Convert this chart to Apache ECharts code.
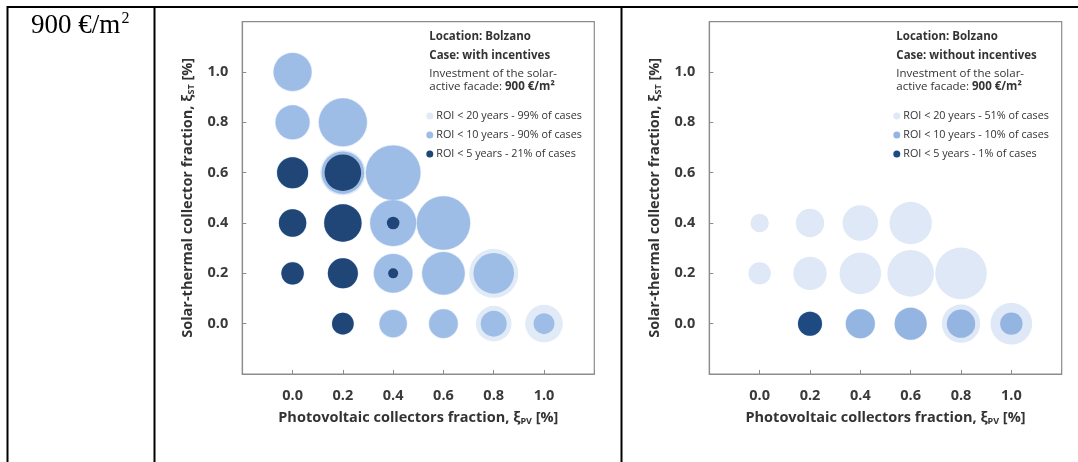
<!DOCTYPE html>
<html>
<head>
<meta charset="utf-8">
<title>ROI of solar-active facade – Bolzano, 900 €/m²</title>
<script src="https://cdn.jsdelivr.net/npm/echarts@6/dist/echarts.min.js"></script>
<style>
  html, body { margin: 0; padding: 0; background: #ffffff; }
  #chart { width: 1078px; height: 462px; }
</style>
</head>
<body>
<div id="chart"></div>
<script>
// Bubble charts: each point is [PV fraction, ST fraction, bubble radius]
// Case: with incentives
const withRoi20 = [
  [0, 1.0, 19.7], [0, 0.8, 17.7], [0.2, 0.8, 24.7],
  [0, 0.6, 16.3], [0.2, 0.6, 22.7], [0.4, 0.6, 28.0],
  [0, 0.4, 14.3], [0.2, 0.4, 19.3], [0.4, 0.4, 23.7], [0.6, 0.4, 27.3],
  [0, 0.2, 11.8], [0.2, 0.2, 15.6], [0.4, 0.2, 20.0], [0.6, 0.2, 22.0], [0.8, 0.2, 24.5],
  [0.2, 0, 11.4], [0.4, 0, 14.3], [0.6, 0, 15.0], [0.8, 0, 17.8], [1.0, 0, 18.8]
];
const withRoi10 = [
  [0, 1.0, 19.0], [0, 0.8, 17.0], [0.2, 0.8, 24.0],
  [0, 0.6, 15.5], [0.2, 0.6, 21.3], [0.4, 0.6, 27.3],
  [0, 0.4, 13.7], [0.2, 0.4, 18.7], [0.4, 0.4, 23.0], [0.6, 0.4, 26.7],
  [0, 0.2, 11.2], [0.2, 0.2, 15.0], [0.4, 0.2, 19.3], [0.6, 0.2, 21.3], [0.8, 0.2, 20.3],
  [0.2, 0, 10.8], [0.4, 0, 13.7], [0.6, 0, 14.3], [0.8, 0, 13.0], [1.0, 0, 10.5]
];
const withRoi5 = [
  [0, 0.6, 15.5], [0.2, 0.6, 18.3],
  [0, 0.4, 13.7], [0.2, 0.4, 18.7], [0.4, 0.4, 6.3],
  [0, 0.2, 11.2], [0.2, 0.2, 15.0], [0.4, 0.2, 5.0],
  [0.2, 0, 10.8]
];

// Case: without incentives
const withoutRoi20 = [
  [0, 0.4, 9.2], [0.2, 0.4, 14.2], [0.4, 0.4, 17.8], [0.6, 0.4, 21.2],
  [0, 0.2, 11.2], [0.2, 0.2, 16.7], [0.4, 0.2, 20.8], [0.6, 0.2, 23.3], [0.8, 0.2, 25.8],
  [0.2, 0, 12.5], [0.4, 0, 15.0], [0.6, 0, 16.5], [0.8, 0, 19.2], [1.0, 0, 20.8]
];
const withoutRoi10 = [
  [0.2, 0, 12.0], [0.4, 0, 14.5], [0.6, 0, 16.0], [0.8, 0, 14.2], [1.0, 0, 11.2]
];
const withoutRoi5 = [
  [0.2, 0, 12.0]
];

const withNames = [
  'ROI < 20 years - 99% of cases',
  'ROI < 10 years - 90% of cases',
  'ROI < 5 years - 21% of cases'
];
const withoutNames = [
  'ROI < 20 years - 51% of cases',
  'ROI < 10 years - 10% of cases',
  'ROI < 5 years - 1% of cases'
];
const caseLabels = ['Case: with incentives', 'Case: without incentives'];
const tickMin = -0.2, tickMax = 1.2, tickStep = 0.2;

// colours per ROI class
const roiColors = {
  with: ['#e1ebf8', '#9dbde6', '#1f4677'],
  without: ['#dfe8f6', '#94b4e1', '#1d4a80']
};

const FONT = '"Open Sans", "DejaVu Sans", sans-serif';
const AXIS_GREY = '#8c8c8c';
const TEXT = '#333333';

// plot boxes (pixels)
const plots = [
  { left: 242.3, top: 21.7, width: 352, height: 352.3 },
  { left: 709.3, top: 21.7, width: 352.4, height: 352.3 }
];

function tickLabel(v) {
  if (v < -0.01 || v > 1.01) return '';
  return v.toFixed(1);
}

function makeAxis(kind, idx) {
  const isX = kind === 'x';
  return {
    type: 'value',
    gridIndex: idx,
    min: tickMin, max: tickMax, interval: tickStep,
    name: isX ? 'Photovoltaic collectors fraction, ξ{sub|PV} [%]'
              : 'Solar-thermal collector fraction, ξ{sub|ST} [%]',
    nameLocation: 'middle',
    nameGap: isX ? 36 : 46,
    nameTextStyle: {
      fontFamily: FONT, fontSize: 14.5, fontWeight: 'bold', color: TEXT,
      rich: { sub: { fontFamily: FONT, fontSize: 9, fontWeight: 'bold', color: TEXT, padding: [7, 0, 0, 0] } }
    },
    axisLine: { show: true, onZero: false, lineStyle: { color: AXIS_GREY, width: 1.2 } },
    axisTick: { show: true, inside: true, length: 4, lineStyle: { color: AXIS_GREY } },
    axisLabel: {
      formatter: tickLabel, margin: 14,
      fontFamily: FONT, fontSize: 14.5, fontWeight: 'bold', color: '#3a3a3a'
    },
    splitLine: { show: false }
  };
}

function bubbleSeries(name, data, color, idx) {
  return {
    type: 'scatter',
    name: name,
    xAxisIndex: idx, yAxisIndex: idx,
    data: data,
    symbol: 'circle',
    symbolSize: d => d[2] * 2,
    itemStyle: { color: color, opacity: 1 },
    emphasis: { disabled: true },
    silent: true,
    animation: false
  };
}

function legendFor(names, idx) {
  return {
    data: names,
    orient: 'vertical',
    left: plots[idx].left + 184,
    top: 109.5,
    padding: 0,
    icon: 'circle',
    itemWidth: 7, itemHeight: 7, itemGap: 6,
    selectedMode: false,
    textStyle: { fontFamily: FONT, fontSize: 10.8, color: TEXT, lineHeight: 13, padding: [0, 0, 0, -2] }
  };
}

function annotation(idx) {
  const x = plots[idx].left + 187;
  const base = { fontFamily: FONT, fill: TEXT };
  return [
    { type: 'text', left: x, top: 30.5, style: Object.assign({}, base, { text: 'Location: Bolzano', fontSize: 11.5, fontWeight: 'bold' }) },
    { type: 'text', left: x, top: 49.5, style: Object.assign({}, base, { text: caseLabels[idx], fontSize: 11.5, fontWeight: 'bold' }) },
    { type: 'text', left: x, top: 67.5, style: Object.assign({}, base, { text: 'Investment of the solar-', fontSize: 11.5 }) },
    { type: 'text', left: x, top: 80.5, style: Object.assign({}, base, {
        text: '{n|active facade: }{b|900 €/m²}',
        rich: {
          n: { fontFamily: FONT, fontSize: 11.5, color: TEXT },
          b: { fontFamily: FONT, fontSize: 11.5, fontWeight: 'bold', color: TEXT }
        }
      }) }
  ];
}

// table frame around the cells
const tableLines = [
  { type: 'line', shape: { x1: 7, y1: 7, x2: 1078, y2: 7 } },
  { type: 'line', shape: { x1: 7.5, y1: 6, x2: 7.5, y2: 462 } },
  { type: 'line', shape: { x1: 154.5, y1: 6, x2: 154.5, y2: 462 } },
  { type: 'line', shape: { x1: 621.5, y1: 6, x2: 621.5, y2: 462 } }
].map(l => Object.assign(l, { silent: true, style: { stroke: '#000000', lineWidth: 2 } }));

const chart = echarts.init(document.getElementById('chart'), null, { renderer: 'canvas' });

chart.setOption({
  animation: false,
  backgroundColor: '#ffffff',
  grid: plots.map(p => ({
    left: p.left, top: p.top, width: p.width, height: p.height,
    show: true, borderColor: AXIS_GREY, borderWidth: 1.2, backgroundColor: 'transparent',
    containLabel: false
  })),
  xAxis: [makeAxis('x', 0), makeAxis('x', 1)],
  yAxis: [makeAxis('y', 0), makeAxis('y', 1)],
  legend: [legendFor(withNames, 0), legendFor(withoutNames, 1)],
  series: [
    bubbleSeries(withNames[0], withRoi20, roiColors.with[0], 0),
    bubbleSeries(withNames[1], withRoi10, roiColors.with[1], 0),
    bubbleSeries(withNames[2], withRoi5, roiColors.with[2], 0),
    bubbleSeries(withoutNames[0], withoutRoi20, roiColors.without[0], 1),
    bubbleSeries(withoutNames[1], withoutRoi10, roiColors.without[1], 1),
    bubbleSeries(withoutNames[2], withoutRoi5, roiColors.without[2], 1)
  ],
  graphic: tableLines.concat(
    [
      { type: 'text', left: 31, top: 12, style: { text: '900 €/m', fontFamily: '"Liberation Serif", "DejaVu Serif", serif', fontSize: 27, fill: '#000000' } },
      { type: 'text', left: 121.5, top: 11, style: { text: '2', fontFamily: '"Liberation Serif", "DejaVu Serif", serif', fontSize: 16, fill: '#000000' } }
    ],
    annotation(0), annotation(1)
  )
});
</script>
</body>
</html>
